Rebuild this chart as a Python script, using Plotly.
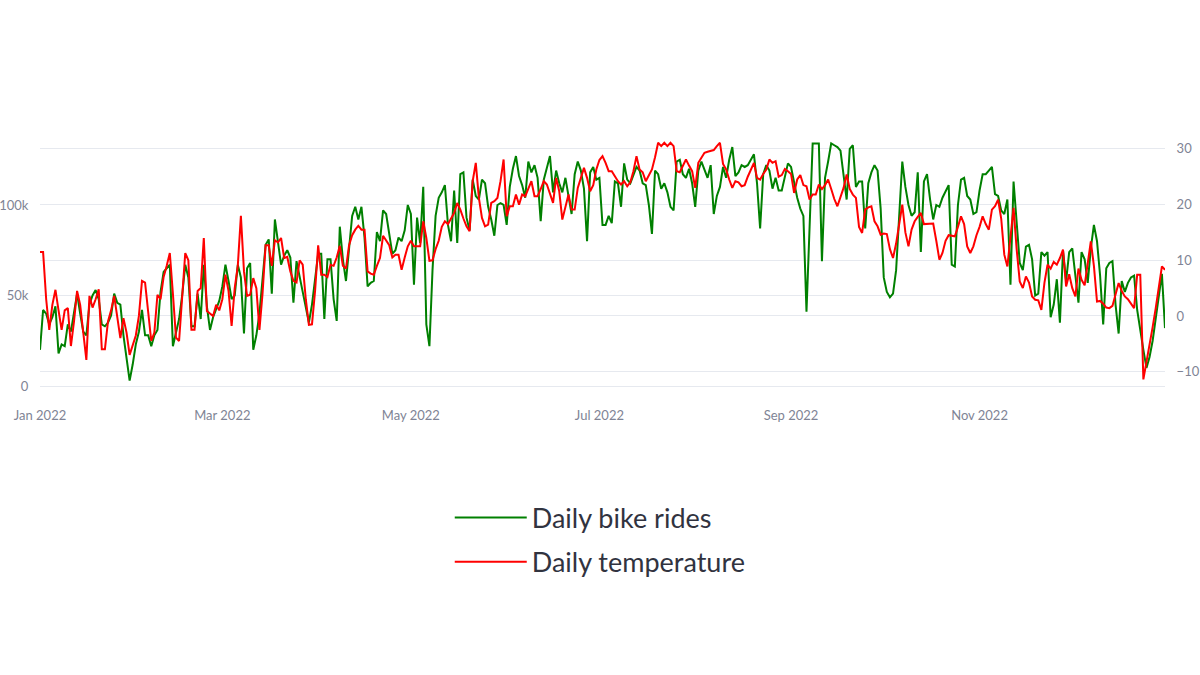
import pandas as pd
import plotly.graph_objects as go

# daily bike rides (thousands)
rides_jan = [20, 42, 40, 34, 38, 44, 18, 23, 22, 34, 30, 40, 51, 40, 30, 28, 45, 50, 53, 48,
             34, 33, 35, 39, 51, 46, 45, 28, 15, 3, 12]
rides_feb = [23, 30, 42, 28, 28, 22, 28, 31, 52, 63, 65, 67, 22, 30, 37, 50, 67, 60, 33, 33,
             51, 37, 67, 44, 31, 38, 42, 47]
rides_mar = [55, 67, 58, 48, 50, 67, 60, 29, 65, 68, 20, 28, 40, 61, 78, 81, 51, 92, 78, 67,
             72, 75, 71, 46, 69, 60, 52, 42, 35, 45, 58]
rides_apr = [73, 73, 37, 70, 70, 48, 36, 88, 70, 58, 75, 94, 99, 92, 99, 82, 55, 57, 58, 85,
             80, 97, 95, 84, 73, 75, 82, 80, 86, 100]
rides_may = [95, 56, 93, 79, 110, 34, 22, 64, 94, 104, 107, 111, 89, 80, 108, 79, 117, 118, 93, 86,
             114, 105, 103, 114, 112, 99, 92, 83, 100, 101, 100]
rides_jun = [89, 110, 120, 127, 116, 111, 104, 124, 118, 122, 115, 91, 114, 120, 127, 107, 119, 112, 107, 115,
             105, 95, 117, 124, 119, 109, 80, 118, 121, 114]
rides_jul = [115, 89, 89, 94, 90, 113, 112, 99, 123, 114, 112, 116, 121, 119, 112, 111, 100, 84, 119, 117,
             109, 112, 107, 99, 97, 124, 125, 117, 115, 120, 112]
rides_aug = [99, 119, 124, 119, 115, 122, 95, 105, 110, 121, 115, 125, 132, 116, 118, 122, 121, 122, 125, 128,
             112, 87, 117, 122, 119, 109, 115, 108, 108, 115, 123]
rides_sep = [121, 112, 104, 98, 94, 41, 84, 134, 134, 134, 69, 115, 124, 134, 133, 132, 130, 115, 103, 131,
             133, 110, 113, 113, 87, 112, 118, 122, 119, 98]
rides_oct = [60, 52, 49, 51, 64, 94, 124, 110, 100, 94, 96, 118, 74, 113, 117, 103, 92, 100, 99, 104,
             108, 111, 67, 66, 100, 114, 115, 105, 103, 95, 96]
rides_nov = [108, 117, 117, 119, 121, 106, 105, 97, 95, 103, 56, 113, 92, 68, 64, 77, 78, 70, 50, 51,
             74, 72, 74, 38, 45, 59, 35, 75, 58, 74]
rides_dec = [76, 60, 46, 74, 70, 57, 76, 89, 80, 61, 34, 65, 68, 69, 45, 29, 58, 52, 57, 60,
             61, 42, 30, 20, 10, 16, 25, 38, 48, 62, 32]

# daily temperature (degrees C)
temp_jan = [11.5, 11.5, 3, -2.5, 2, 4.7, 1, -2.5, 1, 1.4, -5.4, -1, 4.5, 2, -3, -7.9, 3.6, 1.5, 3, 4.8,
            -6, -6, -1, 1, 3.6, 0, -4, -0.4, -3, -7, -5]
temp_feb = [-3.5, 0, 6.3, 6, 1, -4.5, -3, 3.8, 3, 7, 9, 11.3, 4, -3.9, -4.5, 3, 11.3, 10, -2.5, -2.5,
            4.5, 5, 14, 0.9, 0.5, 0, 2, 1]
temp_mar = [3, 7.4, 4.5, -1.8, 5, 9, 18, 8, 3.6, 3.8, 6.8, 5, -2.5, 4, 12.7, 12.7, 9, 13.6, 13.2, 14,
            10.4, 10.6, 8, 6.3, 6, 10, 9.2, 3, -1.6, -1.5, 4.5]
temp_apr = [12.7, 7.4, 7.4, 7, 9.2, 9, 10.5, 12.6, 9, 8.5, 12.7, 14.5, 15.5, 16.2, 15.5, 15.5, 8, 7.6, 7.4, 9,
            10.4, 14.4, 13.5, 12.7, 10.5, 11, 11, 8.3, 10.5, 12.5]
temp_may = [13.5, 12.5, 12.5, 12.5, 17, 14, 9.9, 10, 12, 13.5, 16, 17, 16.5, 17.5, 18.5, 20.3, 19.1, 17.5, 16.1, 15.2,
            24.2, 27.5, 21.2, 17.6, 16.1, 16.4, 20.3, 20.6, 21.2, 24.2, 28.1]
temp_jun = [17.9, 19.7, 19.7, 21.8, 20, 21.8, 21.5, 23, 24.2, 21.5, 21.5, 22.8, 24.2, 23.6, 22, 20.3, 24.8, 22.4, 17.3, 19.5,
            21.8, 19.1, 19.1, 23, 25, 26.6, 24.8, 22.4, 23.5, 26.3]
temp_jul = [28, 28.7, 27.5, 26, 26, 25, 24.2, 23.6, 24.2, 23.3, 24, 26, 28.7, 26.3, 25.8, 24.2, 25.2, 26.3, 28.5, 31.1,
            30.5, 31.1, 30.5, 31.1, 30.5, 26, 25.8, 27, 28.1, 27, 26]
temp_aug = [23, 27.5, 28.4, 29.3, 29.5, 29.6, 29.8, 30.5, 31.1, 27.3, 26.3, 24.5, 23, 24.2, 24, 23.3, 23.5, 25, 26.3, 27.5,
            24.8, 24.5, 25.5, 26.3, 28.1, 27.5, 27.8, 25, 25.3, 26.4, 26]
temp_sep = [25.5, 22.1, 24.5, 25.3, 23.5, 23.3, 20.9, 21.8, 21.8, 23.6, 22.8, 23.5, 24.5, 22.8, 21, 19.7, 21.2, 23, 25.4, 22.8,
            21.8, 21.2, 16, 14.9, 19.1, 19.5, 19.7, 17, 16.1, 14.6]
temp_oct = [14.8, 14.7, 12, 10.4, 13, 16.5, 20, 15, 12.5, 15.5, 17, 17.8, 18.5, 16.5, 16.5, 16.6, 16.6, 13.5, 10.1, 11.3,
            13.5, 14.5, 14.4, 14.3, 16, 17.9, 16.5, 12.5, 11.3, 12.5, 14.5]
temp_nov = [16, 17.9, 16.5, 15.5, 19.1, 19.7, 20.9, 17.5, 11, 8.9, 14, 19.4, 12, 6.2, 5, 7.1, 6, 3.5, 2.9, 2.8,
            1.1, 6, 9.2, 8.5, 9.7, 9.2, 10.4, 11.9, 5.3, 7.5]
temp_dec = [5, 3.5, 8.5, 6.5, 5.5, 10, 13.4, 9, 2.6, 2.7, 2.2, 1.5, 1.4, 1.8, 4, 5.9, 4.5, 3.5, 3, 2.2,
            1.4, 7.4, 7.4, -11.4, -8.5, -5.1, -2, 1.4, 5, 8.9, 8.3]

rides_k = (rides_jan + rides_feb + rides_mar + rides_apr + rides_may + rides_jun
           + rides_jul + rides_aug + rides_sep + rides_oct + rides_nov + rides_dec)
temps = (temp_jan + temp_feb + temp_mar + temp_apr + temp_may + temp_jun
         + temp_jul + temp_aug + temp_sep + temp_oct + temp_nov + temp_dec)
dates = pd.date_range("2022-01-01", periods=len(temps), freq="D")

fig = go.Figure()
fig.add_trace(go.Scatter(x=dates, y=[r * 1000 for r in rides_k], name="Daily bike rides",
                         legendgroup="rides", mode="lines", line=dict(color="green", width=2)))
fig.add_trace(go.Scatter(x=dates, y=temps, name="Daily temperature", yaxis="y2",
                         legendgroup="temp", mode="lines", line=dict(color="red", width=2)))

tick_font = dict(family="Lato, sans-serif", size=13, color="#808495")
no_tick = dict(ticks="outside", ticklen=8, tickcolor="rgba(0,0,0,0)")
fig.update_layout(
    width=1200,
    height=675,
    margin=dict(l=40, r=35, t=140, b=285),
    paper_bgcolor="white",
    plot_bgcolor="white",
    font=dict(family="Lato, sans-serif", color="#31333F"),
    xaxis=dict(range=["2022-01-01", "2022-12-31"], dtick="M2", tick0="2022-01-01",
               tickformat="%b %Y", showgrid=False, zeroline=False, tickfont=tick_font,
               ticks="outside", ticklen=13, tickcolor="rgba(0,0,0,0)", automargin=False),
    yaxis=dict(range=[-2200, 135900], dtick=50000, tickformat="~s", gridcolor="#e6e9ef",
               zeroline=False, tickfont=tick_font, automargin=False, **no_tick),
    yaxis2=dict(range=[-13.3, 31.6], dtick=10, overlaying="y", side="right",
                gridcolor="#e6e9ef", zeroline=False, tickfont=tick_font, automargin=False,
                **no_tick),
    legend=dict(orientation="v", x=0.498, xanchor="center", y=-0.414, yanchor="top",
                font=dict(size=27, color="#31333F"), itemwidth=72, tracegroupgap=6),
)

# drop the default 8px page margin so the figure fills the window
fig.write_html("out.html", config={"displayModeBar": False},
               post_script="document.body.style.margin='0';")
